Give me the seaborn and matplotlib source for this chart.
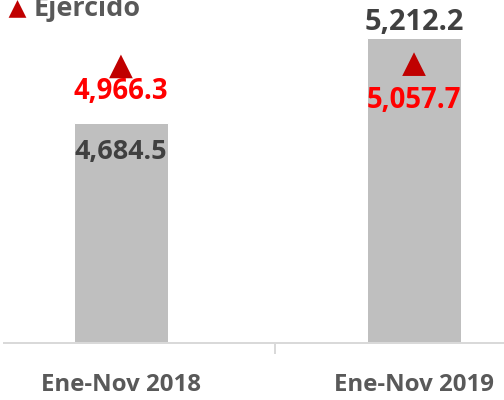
import matplotlib
matplotlib.use("Agg")
import matplotlib.pyplot as plt
import seaborn as sns

# -------------------------
# DATA
# -------------------------
periodos = ["Ene-Nov 2018", "Ene-Nov 2019"]
pagado = [4684.5, 5212.2]
ejercido = [4966.3, 5057.7]

pagado_txt = ["4,684.5", "5,212.2"]
ejercido_txt = ["4,966.3", "5,057.7"]

# -------------------------
# STYLE
# -------------------------
sns.set_theme(style="white")
plt.rcParams["font.family"] = ["Open Sans", "DejaVu Sans"]

gris_barra = "#bfbfbf"
gris_texto = "#595959"
gris_oscuro = "#404040"
gris_eje = "#d9d9d9"
rojo_marca = "#c00000"
rojo_texto = "#ff0000"

fig = plt.figure(figsize=(7, 400 / 72), dpi=72)
ax = fig.add_axes([4 / 504, 57 / 400, 500 / 504, 343 / 400])

sns.barplot(x=periodos, y=pagado, color=gris_barra, saturation=1,
            width=0.32, ax=ax)

ax.set_xlim(-0.399, 1.307)
ax.set_ylim(3307, 5452)

# bar labels (first inside the bar, second above)
bar_offsets = [-29, 16]
bar_sizes = [27, 29]
for i, (v, t) in enumerate(zip(pagado, pagado_txt)):
    ax.annotate(t, (i, v), xytext=(0, bar_offsets[i]), textcoords="offset points",
                ha="center", va="center", fontsize=bar_sizes[i], fontweight="bold",
                color=gris_oscuro)

# -------------------------
# EJERCIDO (secondary axis)
# -------------------------
ax2 = ax.twinx()
sns.scatterplot(x=[0, 1], y=ejercido, marker="^", s=560, color=rojo_marca,
                edgecolor="none", ax=ax2, label="Ejercido", zorder=5)
ax2.set_ylim(-6000, 7600)
ax2.set_xlim(ax.get_xlim())

red_offsets = [-25, -36]
for i, (v, t) in enumerate(zip(ejercido, ejercido_txt)):
    ax2.annotate(t, (i, v), xytext=(0, red_offsets[i]), textcoords="offset points",
                 ha="center", va="center", fontsize=27.5, fontweight="bold",
                 color=rojo_texto)

leg = ax2.legend(loc="lower left", bbox_to_anchor=(4 / 504, 1 - 22 / 400),
                 bbox_transform=fig.transFigure, frameon=False,
                 prop={"size": 27, "weight": "bold"}, labelcolor=gris_texto,
                 markerscale=0.75, handletextpad=0.1, borderpad=0,
                 borderaxespad=0, handlelength=1.0)

# -------------------------
# AXES
# -------------------------
for a in (ax, ax2):
    for s in ("left", "right", "top"):
        a.spines[s].set_visible(False)
    a.set_yticks([])
    a.set_ylabel("")
ax2.spines["bottom"].set_visible(False)

ax.spines["bottom"].set_color(gris_eje)
ax.spines["bottom"].set_linewidth(2)
ax.set_xticks([0, 1])
ax.set_xticklabels(periodos, fontsize=24, fontweight="bold", color=gris_texto)
ax.tick_params(axis="x", which="major", length=0, pad=30)
ax.set_xticks([0.525], minor=True)
ax.tick_params(axis="x", which="minor", length=11, width=2, color=gris_eje,
               bottom=True)

fig.savefig("out.png", dpi=72)
